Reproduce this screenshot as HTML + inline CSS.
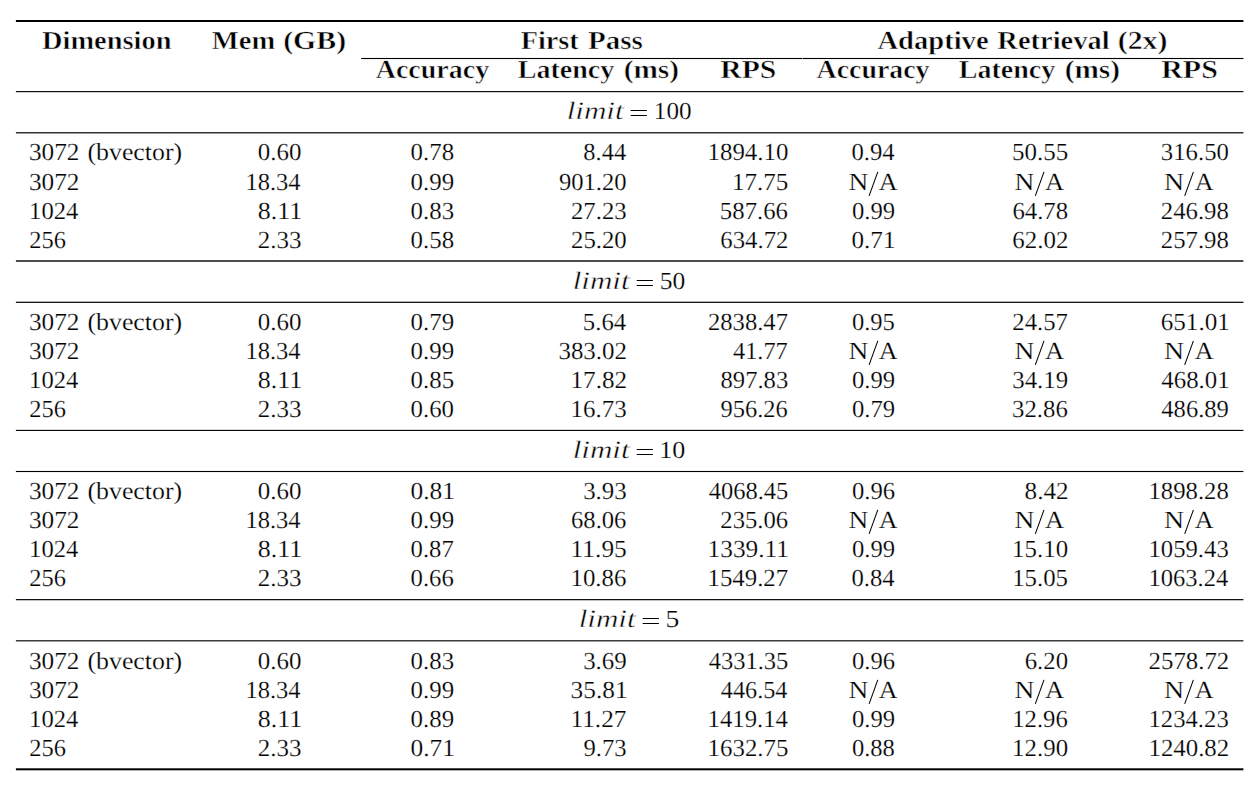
<!DOCTYPE html><html><head><meta charset="utf-8"><style>html,body{margin:0;padding:0;background:#fff;overflow:hidden}svg{display:block;text-rendering:geometricPrecision}text{font-family:"Liberation Serif",serif;fill:#000;stroke:#fff;stroke-width:0.2px}.b{font-weight:bold;stroke:#fff;stroke-width:0.5px}.i{font-style:italic;stroke:#fff;stroke-width:0.4px}html,body{width:1258px;height:788px}</style></head><body>
<svg width="1258" height="788" viewBox="0 0 1258 788">
<rect x="15.90" y="20.00" width="1227.50" height="2.00" fill="#000"/>
<rect x="361.10" y="57.95" width="441.00" height="1.10" fill="#000"/>
<rect x="802.60" y="57.95" width="440.80" height="1.10" fill="#000"/>
<rect x="15.90" y="91.05" width="1227.50" height="1.15" fill="#000"/>
<rect x="15.90" y="132.20" width="1227.50" height="1.20" fill="#000"/>
<rect x="15.90" y="260.30" width="1227.50" height="1.40" fill="#000"/>
<rect x="15.90" y="301.70" width="1227.50" height="1.20" fill="#000"/>
<rect x="15.90" y="429.85" width="1227.50" height="1.12" fill="#000"/>
<rect x="15.90" y="470.95" width="1227.50" height="1.10" fill="#000"/>
<rect x="15.90" y="599.08" width="1227.50" height="1.17" fill="#000"/>
<rect x="15.90" y="640.25" width="1227.50" height="1.15" fill="#000"/>
<rect x="15.90" y="768.30" width="1227.50" height="2.00" fill="#000"/>
<rect x="630.70" y="110.00" width="16.20" height="1.00" fill="#000"/>
<rect x="630.70" y="115.00" width="16.20" height="1.00" fill="#000"/>
<rect x="636.70" y="280.00" width="16.20" height="1.00" fill="#000"/>
<rect x="636.70" y="285.00" width="16.20" height="1.00" fill="#000"/>
<rect x="636.70" y="449.00" width="16.20" height="1.00" fill="#000"/>
<rect x="636.70" y="454.00" width="16.20" height="1.00" fill="#000"/>
<rect x="642.70" y="618.00" width="16.20" height="1.00" fill="#000"/>
<rect x="642.70" y="623.00" width="16.20" height="1.00" fill="#000"/>
<text x="42.06" y="49" font-size="26.0" class="b" textLength="129.45" lengthAdjust="spacingAndGlyphs">Dimension</text>
<text x="211.86" y="49" font-size="26.0" class="b" textLength="63.40" lengthAdjust="spacingAndGlyphs">Mem</text>
<text x="283.19" y="49" font-size="26.0" class="b" textLength="62.96" lengthAdjust="spacingAndGlyphs">(GB)</text>
<text x="520.75" y="49" font-size="26.0" class="b" textLength="58.01" lengthAdjust="spacingAndGlyphs">First</text>
<text x="588.02" y="49" font-size="26.0" class="b" textLength="54.80" lengthAdjust="spacingAndGlyphs">Pass</text>
<text x="877.45" y="49" font-size="26.0" class="b" textLength="111.14" lengthAdjust="spacingAndGlyphs">Adaptive</text>
<text x="997.38" y="49" font-size="26.0" class="b" textLength="112.17" lengthAdjust="spacingAndGlyphs">Retrieval</text>
<text x="1117.68" y="49" font-size="26.0" class="b" textLength="49.82" lengthAdjust="spacingAndGlyphs">(2x)</text>
<text x="375.69" y="78" font-size="26.0" class="b" textLength="113.44" lengthAdjust="spacingAndGlyphs">Accuracy</text>
<text x="517.72" y="78" font-size="26.0" class="b" textLength="96.61" lengthAdjust="spacingAndGlyphs">Latency</text>
<text x="623.67" y="78" font-size="26.0" class="b" textLength="55.38" lengthAdjust="spacingAndGlyphs">(ms)</text>
<text x="720.32" y="78" font-size="26.0" class="b" textLength="56.05" lengthAdjust="spacingAndGlyphs">RPS</text>
<text x="816.61" y="78" font-size="26.0" class="b" textLength="112.94" lengthAdjust="spacingAndGlyphs">Accuracy</text>
<text x="958.72" y="78" font-size="26.0" class="b" textLength="96.61" lengthAdjust="spacingAndGlyphs">Latency</text>
<text x="1064.67" y="78" font-size="26.0" class="b" textLength="55.38" lengthAdjust="spacingAndGlyphs">(ms)</text>
<text x="1161.21" y="78" font-size="26.0" class="b" textLength="56.63" lengthAdjust="spacingAndGlyphs">RPS</text>
<text x="566.67" y="119" font-size="25.0" class="i" textLength="56.98" lengthAdjust="spacingAndGlyphs">limit</text>
<text x="653.85" y="119" font-size="24.5" textLength="37.73" lengthAdjust="spacingAndGlyphs">100</text>
<text x="28.99" y="160" font-size="24.5" textLength="50.51" lengthAdjust="spacingAndGlyphs">3072</text>
<text x="87.46" y="160" font-size="24.5" textLength="94.69" lengthAdjust="spacingAndGlyphs">(bvector)</text>
<text x="257.89" y="160" font-size="24.5" textLength="43.63" lengthAdjust="spacingAndGlyphs">0.60</text>
<text x="410.55" y="160" font-size="24.5" textLength="43.53" lengthAdjust="spacingAndGlyphs">0.78</text>
<text x="583.34" y="160" font-size="24.5" textLength="42.80" lengthAdjust="spacingAndGlyphs">8.44</text>
<text x="707.52" y="160" font-size="24.5" textLength="80.90" lengthAdjust="spacingAndGlyphs">1894.10</text>
<text x="851.47" y="160" font-size="24.5" textLength="43.25" lengthAdjust="spacingAndGlyphs">0.94</text>
<text x="1011.93" y="160" font-size="24.5" textLength="56.19" lengthAdjust="spacingAndGlyphs">50.55</text>
<text x="1160.86" y="160" font-size="24.5" textLength="68.02" lengthAdjust="spacingAndGlyphs">316.50</text>
<text x="28.99" y="190" font-size="24.5" textLength="50.51" lengthAdjust="spacingAndGlyphs">3072</text>
<text x="245.50" y="190" font-size="24.5" textLength="55.10" lengthAdjust="spacingAndGlyphs">18.34</text>
<text x="410.56" y="190" font-size="24.5" textLength="43.58" lengthAdjust="spacingAndGlyphs">0.99</text>
<text x="558.94" y="190" font-size="24.5" textLength="67.65" lengthAdjust="spacingAndGlyphs">901.20</text>
<text x="731.91" y="190" font-size="24.5" textLength="56.34" lengthAdjust="spacingAndGlyphs">17.75</text>
<text x="848.61" y="190" font-size="24.5" textLength="19.84" lengthAdjust="spacingAndGlyphs">N</text>
<text x="878.85" y="190" font-size="24.5" textLength="18.84" lengthAdjust="spacingAndGlyphs">A</text>
<text x="1014.63" y="190" font-size="24.5" textLength="19.86" lengthAdjust="spacingAndGlyphs">N</text>
<text x="1045.01" y="190" font-size="24.5" textLength="19.12" lengthAdjust="spacingAndGlyphs">A</text>
<text x="1164.02" y="190" font-size="24.5" textLength="20.16" lengthAdjust="spacingAndGlyphs">N</text>
<text x="1194.72" y="190" font-size="24.5" textLength="18.85" lengthAdjust="spacingAndGlyphs">A</text>
<text x="29.09" y="219" font-size="24.5" textLength="49.25" lengthAdjust="spacingAndGlyphs">1024</text>
<text x="257.87" y="219" font-size="24.5" textLength="44.42" lengthAdjust="spacingAndGlyphs">8.11</text>
<text x="410.55" y="219" font-size="24.5" textLength="43.52" lengthAdjust="spacingAndGlyphs">0.83</text>
<text x="571.00" y="219" font-size="24.5" textLength="55.62" lengthAdjust="spacingAndGlyphs">27.23</text>
<text x="719.88" y="219" font-size="24.5" textLength="68.12" lengthAdjust="spacingAndGlyphs">587.66</text>
<text x="851.90" y="219" font-size="24.5" textLength="43.15" lengthAdjust="spacingAndGlyphs">0.99</text>
<text x="1012.40" y="219" font-size="24.5" textLength="55.72" lengthAdjust="spacingAndGlyphs">64.78</text>
<text x="1160.75" y="219" font-size="24.5" textLength="68.12" lengthAdjust="spacingAndGlyphs">246.98</text>
<text x="29.28" y="248" font-size="24.5" textLength="36.64" lengthAdjust="spacingAndGlyphs">256</text>
<text x="257.72" y="248" font-size="24.5" textLength="43.77" lengthAdjust="spacingAndGlyphs">2.33</text>
<text x="410.55" y="248" font-size="24.5" textLength="43.53" lengthAdjust="spacingAndGlyphs">0.58</text>
<text x="571.00" y="248" font-size="24.5" textLength="55.75" lengthAdjust="spacingAndGlyphs">25.20</text>
<text x="720.33" y="248" font-size="24.5" textLength="68.04" lengthAdjust="spacingAndGlyphs">634.72</text>
<text x="851.51" y="248" font-size="24.5" textLength="44.02" lengthAdjust="spacingAndGlyphs">0.71</text>
<text x="1012.37" y="248" font-size="24.5" textLength="56.12" lengthAdjust="spacingAndGlyphs">62.02</text>
<text x="1160.75" y="248" font-size="24.5" textLength="68.12" lengthAdjust="spacingAndGlyphs">257.98</text>
<text x="572.67" y="289" font-size="25.0" class="i" textLength="56.98" lengthAdjust="spacingAndGlyphs">limit</text>
<text x="659.75" y="289" font-size="24.5" textLength="25.51" lengthAdjust="spacingAndGlyphs">50</text>
<text x="28.99" y="330" font-size="24.5" textLength="50.51" lengthAdjust="spacingAndGlyphs">3072</text>
<text x="87.46" y="330" font-size="24.5" textLength="94.69" lengthAdjust="spacingAndGlyphs">(bvector)</text>
<text x="257.89" y="330" font-size="24.5" textLength="43.63" lengthAdjust="spacingAndGlyphs">0.60</text>
<text x="410.56" y="330" font-size="24.5" textLength="43.58" lengthAdjust="spacingAndGlyphs">0.79</text>
<text x="582.83" y="330" font-size="24.5" textLength="43.29" lengthAdjust="spacingAndGlyphs">5.64</text>
<text x="708.03" y="330" font-size="24.5" textLength="79.93" lengthAdjust="spacingAndGlyphs">2838.47</text>
<text x="851.91" y="330" font-size="24.5" textLength="42.97" lengthAdjust="spacingAndGlyphs">0.95</text>
<text x="1012.39" y="330" font-size="24.5" textLength="55.58" lengthAdjust="spacingAndGlyphs">24.57</text>
<text x="1160.72" y="330" font-size="24.5" textLength="69.11" lengthAdjust="spacingAndGlyphs">651.01</text>
<text x="28.99" y="359" font-size="24.5" textLength="50.51" lengthAdjust="spacingAndGlyphs">3072</text>
<text x="245.50" y="359" font-size="24.5" textLength="55.10" lengthAdjust="spacingAndGlyphs">18.34</text>
<text x="410.56" y="359" font-size="24.5" textLength="43.58" lengthAdjust="spacingAndGlyphs">0.99</text>
<text x="558.45" y="359" font-size="24.5" textLength="68.56" lengthAdjust="spacingAndGlyphs">383.02</text>
<text x="732.95" y="359" font-size="24.5" textLength="54.85" lengthAdjust="spacingAndGlyphs">41.77</text>
<text x="848.61" y="359" font-size="24.5" textLength="19.84" lengthAdjust="spacingAndGlyphs">N</text>
<text x="878.85" y="359" font-size="24.5" textLength="18.84" lengthAdjust="spacingAndGlyphs">A</text>
<text x="1014.63" y="359" font-size="24.5" textLength="19.86" lengthAdjust="spacingAndGlyphs">N</text>
<text x="1045.01" y="359" font-size="24.5" textLength="19.12" lengthAdjust="spacingAndGlyphs">A</text>
<text x="1164.02" y="359" font-size="24.5" textLength="20.16" lengthAdjust="spacingAndGlyphs">N</text>
<text x="1194.72" y="359" font-size="24.5" textLength="18.85" lengthAdjust="spacingAndGlyphs">A</text>
<text x="29.09" y="388" font-size="24.5" textLength="49.25" lengthAdjust="spacingAndGlyphs">1024</text>
<text x="257.87" y="388" font-size="24.5" textLength="44.42" lengthAdjust="spacingAndGlyphs">8.11</text>
<text x="410.55" y="388" font-size="24.5" textLength="43.52" lengthAdjust="spacingAndGlyphs">0.85</text>
<text x="570.50" y="388" font-size="24.5" textLength="56.64" lengthAdjust="spacingAndGlyphs">17.82</text>
<text x="720.50" y="388" font-size="24.5" textLength="67.72" lengthAdjust="spacingAndGlyphs">897.83</text>
<text x="851.90" y="388" font-size="24.5" textLength="43.15" lengthAdjust="spacingAndGlyphs">0.99</text>
<text x="1012.28" y="388" font-size="24.5" textLength="55.86" lengthAdjust="spacingAndGlyphs">34.19</text>
<text x="1161.29" y="388" font-size="24.5" textLength="68.45" lengthAdjust="spacingAndGlyphs">468.01</text>
<text x="29.28" y="417" font-size="24.5" textLength="36.64" lengthAdjust="spacingAndGlyphs">256</text>
<text x="257.72" y="417" font-size="24.5" textLength="43.77" lengthAdjust="spacingAndGlyphs">2.33</text>
<text x="410.54" y="417" font-size="24.5" textLength="43.49" lengthAdjust="spacingAndGlyphs">0.60</text>
<text x="570.54" y="417" font-size="24.5" textLength="56.12" lengthAdjust="spacingAndGlyphs">16.73</text>
<text x="720.56" y="417" font-size="24.5" textLength="67.22" lengthAdjust="spacingAndGlyphs">956.26</text>
<text x="851.90" y="417" font-size="24.5" textLength="43.15" lengthAdjust="spacingAndGlyphs">0.79</text>
<text x="1012.08" y="417" font-size="24.5" textLength="55.73" lengthAdjust="spacingAndGlyphs">32.86</text>
<text x="1161.31" y="417" font-size="24.5" textLength="67.59" lengthAdjust="spacingAndGlyphs">486.89</text>
<text x="572.67" y="458" font-size="25.0" class="i" textLength="56.98" lengthAdjust="spacingAndGlyphs">limit</text>
<text x="659.33" y="458" font-size="24.5" textLength="26.03" lengthAdjust="spacingAndGlyphs">10</text>
<text x="28.99" y="499" font-size="24.5" textLength="50.51" lengthAdjust="spacingAndGlyphs">3072</text>
<text x="87.46" y="499" font-size="24.5" textLength="94.69" lengthAdjust="spacingAndGlyphs">(bvector)</text>
<text x="257.89" y="499" font-size="24.5" textLength="43.63" lengthAdjust="spacingAndGlyphs">0.60</text>
<text x="410.46" y="499" font-size="24.5" textLength="44.48" lengthAdjust="spacingAndGlyphs">0.81</text>
<text x="583.15" y="499" font-size="24.5" textLength="43.56" lengthAdjust="spacingAndGlyphs">3.93</text>
<text x="708.67" y="499" font-size="24.5" textLength="79.60" lengthAdjust="spacingAndGlyphs">4068.45</text>
<text x="851.95" y="499" font-size="24.5" textLength="43.12" lengthAdjust="spacingAndGlyphs">0.96</text>
<text x="1024.58" y="499" font-size="24.5" textLength="43.96" lengthAdjust="spacingAndGlyphs">8.42</text>
<text x="1148.53" y="499" font-size="24.5" textLength="80.22" lengthAdjust="spacingAndGlyphs">1898.28</text>
<text x="28.99" y="528" font-size="24.5" textLength="50.51" lengthAdjust="spacingAndGlyphs">3072</text>
<text x="245.50" y="528" font-size="24.5" textLength="55.10" lengthAdjust="spacingAndGlyphs">18.34</text>
<text x="410.56" y="528" font-size="24.5" textLength="43.58" lengthAdjust="spacingAndGlyphs">0.99</text>
<text x="571.02" y="528" font-size="24.5" textLength="55.38" lengthAdjust="spacingAndGlyphs">68.06</text>
<text x="720.34" y="528" font-size="24.5" textLength="67.80" lengthAdjust="spacingAndGlyphs">235.06</text>
<text x="848.61" y="528" font-size="24.5" textLength="19.84" lengthAdjust="spacingAndGlyphs">N</text>
<text x="878.85" y="528" font-size="24.5" textLength="18.84" lengthAdjust="spacingAndGlyphs">A</text>
<text x="1014.63" y="528" font-size="24.5" textLength="19.86" lengthAdjust="spacingAndGlyphs">N</text>
<text x="1045.01" y="528" font-size="24.5" textLength="19.12" lengthAdjust="spacingAndGlyphs">A</text>
<text x="1164.02" y="528" font-size="24.5" textLength="20.16" lengthAdjust="spacingAndGlyphs">N</text>
<text x="1194.72" y="528" font-size="24.5" textLength="18.85" lengthAdjust="spacingAndGlyphs">A</text>
<text x="29.09" y="557" font-size="24.5" textLength="49.25" lengthAdjust="spacingAndGlyphs">1024</text>
<text x="257.87" y="557" font-size="24.5" textLength="44.42" lengthAdjust="spacingAndGlyphs">8.11</text>
<text x="410.57" y="557" font-size="24.5" textLength="43.16" lengthAdjust="spacingAndGlyphs">0.87</text>
<text x="570.60" y="557" font-size="24.5" textLength="56.18" lengthAdjust="spacingAndGlyphs">11.95</text>
<text x="707.56" y="557" font-size="24.5" textLength="81.43" lengthAdjust="spacingAndGlyphs">1339.11</text>
<text x="851.90" y="557" font-size="24.5" textLength="43.15" lengthAdjust="spacingAndGlyphs">0.99</text>
<text x="1012.14" y="557" font-size="24.5" textLength="55.94" lengthAdjust="spacingAndGlyphs">15.10</text>
<text x="1148.53" y="557" font-size="24.5" textLength="80.20" lengthAdjust="spacingAndGlyphs">1059.43</text>
<text x="29.28" y="586" font-size="24.5" textLength="36.64" lengthAdjust="spacingAndGlyphs">256</text>
<text x="257.72" y="586" font-size="24.5" textLength="43.77" lengthAdjust="spacingAndGlyphs">2.33</text>
<text x="410.57" y="586" font-size="24.5" textLength="43.25" lengthAdjust="spacingAndGlyphs">0.66</text>
<text x="570.46" y="586" font-size="24.5" textLength="56.01" lengthAdjust="spacingAndGlyphs">10.86</text>
<text x="707.54" y="586" font-size="24.5" textLength="80.61" lengthAdjust="spacingAndGlyphs">1549.27</text>
<text x="851.47" y="586" font-size="24.5" textLength="43.25" lengthAdjust="spacingAndGlyphs">0.84</text>
<text x="1012.15" y="586" font-size="24.5" textLength="55.78" lengthAdjust="spacingAndGlyphs">15.05</text>
<text x="1148.45" y="586" font-size="24.5" textLength="79.74" lengthAdjust="spacingAndGlyphs">1063.24</text>
<text x="578.67" y="627" font-size="25.0" class="i" textLength="56.98" lengthAdjust="spacingAndGlyphs">limit</text>
<text x="665.43" y="627" font-size="24.5" textLength="13.82" lengthAdjust="spacingAndGlyphs">5</text>
<text x="28.99" y="669" font-size="24.5" textLength="50.51" lengthAdjust="spacingAndGlyphs">3072</text>
<text x="87.46" y="669" font-size="24.5" textLength="94.69" lengthAdjust="spacingAndGlyphs">(bvector)</text>
<text x="257.89" y="669" font-size="24.5" textLength="43.63" lengthAdjust="spacingAndGlyphs">0.60</text>
<text x="410.55" y="669" font-size="24.5" textLength="43.52" lengthAdjust="spacingAndGlyphs">0.83</text>
<text x="583.15" y="669" font-size="24.5" textLength="43.68" lengthAdjust="spacingAndGlyphs">3.69</text>
<text x="708.67" y="669" font-size="24.5" textLength="79.60" lengthAdjust="spacingAndGlyphs">4331.35</text>
<text x="851.95" y="669" font-size="24.5" textLength="43.12" lengthAdjust="spacingAndGlyphs">0.96</text>
<text x="1024.70" y="669" font-size="24.5" textLength="43.37" lengthAdjust="spacingAndGlyphs">6.20</text>
<text x="1148.58" y="669" font-size="24.5" textLength="80.61" lengthAdjust="spacingAndGlyphs">2578.72</text>
<text x="28.99" y="698" font-size="24.5" textLength="50.51" lengthAdjust="spacingAndGlyphs">3072</text>
<text x="245.50" y="698" font-size="24.5" textLength="55.10" lengthAdjust="spacingAndGlyphs">18.34</text>
<text x="410.56" y="698" font-size="24.5" textLength="43.58" lengthAdjust="spacingAndGlyphs">0.99</text>
<text x="570.61" y="698" font-size="24.5" textLength="56.98" lengthAdjust="spacingAndGlyphs">35.81</text>
<text x="720.87" y="698" font-size="24.5" textLength="66.60" lengthAdjust="spacingAndGlyphs">446.54</text>
<text x="848.61" y="698" font-size="24.5" textLength="19.84" lengthAdjust="spacingAndGlyphs">N</text>
<text x="878.85" y="698" font-size="24.5" textLength="18.84" lengthAdjust="spacingAndGlyphs">A</text>
<text x="1014.63" y="698" font-size="24.5" textLength="19.86" lengthAdjust="spacingAndGlyphs">N</text>
<text x="1045.01" y="698" font-size="24.5" textLength="19.12" lengthAdjust="spacingAndGlyphs">A</text>
<text x="1164.02" y="698" font-size="24.5" textLength="20.16" lengthAdjust="spacingAndGlyphs">N</text>
<text x="1194.72" y="698" font-size="24.5" textLength="18.85" lengthAdjust="spacingAndGlyphs">A</text>
<text x="29.09" y="727" font-size="24.5" textLength="49.25" lengthAdjust="spacingAndGlyphs">1024</text>
<text x="257.87" y="727" font-size="24.5" textLength="44.42" lengthAdjust="spacingAndGlyphs">8.11</text>
<text x="410.56" y="727" font-size="24.5" textLength="43.58" lengthAdjust="spacingAndGlyphs">0.89</text>
<text x="570.54" y="727" font-size="24.5" textLength="55.89" lengthAdjust="spacingAndGlyphs">11.27</text>
<text x="707.58" y="727" font-size="24.5" textLength="80.29" lengthAdjust="spacingAndGlyphs">1419.14</text>
<text x="851.90" y="727" font-size="24.5" textLength="43.15" lengthAdjust="spacingAndGlyphs">0.99</text>
<text x="1012.16" y="727" font-size="24.5" textLength="55.63" lengthAdjust="spacingAndGlyphs">12.96</text>
<text x="1148.53" y="727" font-size="24.5" textLength="80.20" lengthAdjust="spacingAndGlyphs">1234.23</text>
<text x="29.28" y="756" font-size="24.5" textLength="36.64" lengthAdjust="spacingAndGlyphs">256</text>
<text x="257.72" y="756" font-size="24.5" textLength="43.77" lengthAdjust="spacingAndGlyphs">2.33</text>
<text x="410.46" y="756" font-size="24.5" textLength="44.48" lengthAdjust="spacingAndGlyphs">0.71</text>
<text x="583.55" y="756" font-size="24.5" textLength="43.08" lengthAdjust="spacingAndGlyphs">9.73</text>
<text x="707.62" y="756" font-size="24.5" textLength="80.82" lengthAdjust="spacingAndGlyphs">1632.75</text>
<text x="851.91" y="756" font-size="24.5" textLength="42.98" lengthAdjust="spacingAndGlyphs">0.88</text>
<text x="1012.14" y="756" font-size="24.5" textLength="55.94" lengthAdjust="spacingAndGlyphs">12.90</text>
<text x="1148.49" y="756" font-size="24.5" textLength="80.73" lengthAdjust="spacingAndGlyphs">1240.82</text>
<line x1="869.10" y1="195.90" x2="877.80" y2="171.90" stroke="#000" stroke-width="1.05"/>
<line x1="1035.30" y1="195.90" x2="1044.00" y2="171.90" stroke="#000" stroke-width="1.05"/>
<line x1="1184.70" y1="195.90" x2="1193.40" y2="171.90" stroke="#000" stroke-width="1.05"/>
<line x1="869.10" y1="364.90" x2="877.80" y2="340.90" stroke="#000" stroke-width="1.05"/>
<line x1="1035.30" y1="364.90" x2="1044.00" y2="340.90" stroke="#000" stroke-width="1.05"/>
<line x1="1184.70" y1="364.90" x2="1193.40" y2="340.90" stroke="#000" stroke-width="1.05"/>
<line x1="869.10" y1="533.90" x2="877.80" y2="509.90" stroke="#000" stroke-width="1.05"/>
<line x1="1035.30" y1="533.90" x2="1044.00" y2="509.90" stroke="#000" stroke-width="1.05"/>
<line x1="1184.70" y1="533.90" x2="1193.40" y2="509.90" stroke="#000" stroke-width="1.05"/>
<line x1="869.10" y1="703.90" x2="877.80" y2="679.90" stroke="#000" stroke-width="1.05"/>
<line x1="1035.30" y1="703.90" x2="1044.00" y2="679.90" stroke="#000" stroke-width="1.05"/>
<line x1="1184.70" y1="703.90" x2="1193.40" y2="679.90" stroke="#000" stroke-width="1.05"/>
</svg></body></html>
